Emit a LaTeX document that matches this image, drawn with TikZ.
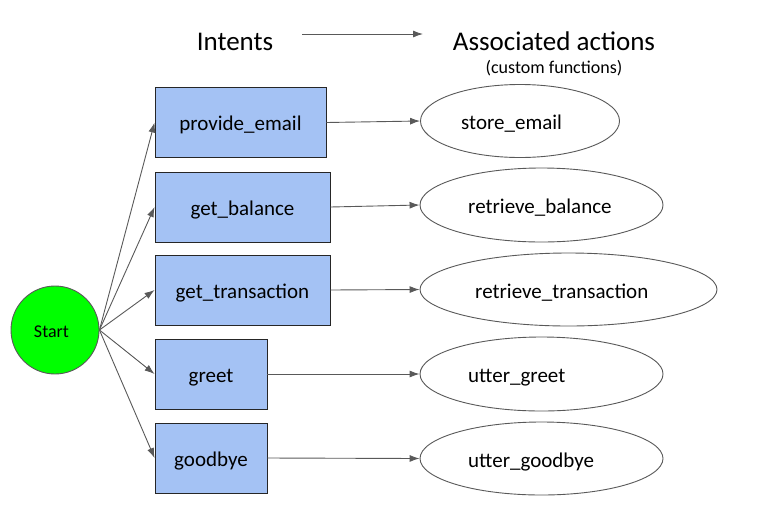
\documentclass[tikz,border=0pt]{standalone}
\usepackage{fontspec}
\setmainfont{Carlito}
\usetikzlibrary{arrows.meta,shapes.geometric}
\definecolor{boxblue}{HTML}{A4C2F4}
\definecolor{linegray}{HTML}{595959}
\definecolor{startgreen}{HTML}{00FF00}
\tikzset{
  intent/.style={draw=black!85, line width=0.9pt, fill=boxblue, minimum height=70pt, inner sep=0pt, text height=16pt, text depth=0pt, font=\fontsize{21}{24}\selectfont},
  action/.style={ellipse, draw=linegray, line width=0.9pt, fill=white, inner sep=0pt},
  acttext/.style={anchor=base west, inner sep=0pt, font=\fontsize{21}{24}\selectfont},
  conn/.style={draw=linegray, line width=0.9pt, -{Latex[length=10pt,width=7pt]}},
  heading/.style={anchor=base, inner sep=0pt, font=\fontsize{27}{30}\selectfont}
}
\begin{document}
\begin{tikzpicture}[x=1pt,y=-1pt]
\useasboundingbox (0,0) rectangle (773,528);
% headings
\node[heading] (hint) at (235,50) {Intents};
\node[heading] (hact) at (554,50) {Associated actions};
\node[anchor=base, inner sep=0pt, font=\fontsize{18}{20}\selectfont] (hcf) at (554,73) {(custom functions)};
\coordinate (ha1) at (302,34);
\coordinate (ha2) at (423,34);
\draw[conn] (ha1) -- (ha2);
% start
\node[circle, draw=linegray, line width=0.9pt, fill=startgreen, minimum size=88pt, inner sep=0pt, text height=14pt, text depth=0pt, font=\fontsize{18}{20}\selectfont] (start) at (55,330) {\hspace*{-7pt}Start};
% intents
\node[intent, minimum width=171pt] (pe) at (240.5,122.5) {provide\_email};
\node[intent, minimum width=175pt] (gb) at (242.5,207) {get\_balance};
\node[intent, minimum width=175pt] (gt) at (242.5,290) {get\_transaction};
\node[intent, minimum width=112pt] (gr) at (211,374) {greet};
\node[intent, minimum width=112pt] (gd) at (211,458) {goodbye};
% actions
\node[action, minimum width=199pt, minimum height=73pt] (e1) at (520,121) {};
\node[action, minimum width=243pt, minimum height=74pt] (e2) at (541.5,205) {};
\node[action, minimum width=297pt, minimum height=73pt] (e3) at (568.5,289.5) {};
\node[action, minimum width=243pt, minimum height=74pt] (e4) at (541.5,374) {};
\node[action, minimum width=243pt, minimum height=73pt] (e5) at (541.5,458.5) {};
\node[acttext] (t1) at (461,129.5) {store\_email};
\node[acttext] (t2) at (468,213.5) {retrieve\_balance};
\node[acttext] (t3) at (475,298) {retrieve\_transaction};
\node[acttext] (t4) at (468,382.5) {utter\_greet};
\node[acttext] (t5) at (468,467) {utter\_goodbye};
% connectors
\foreach \n in {pe,gb,gt,gr,gd} {
  \draw[conn] (start.east) -- (\n.west);
}
\draw[conn] (pe.east) -- (e1.west);
\draw[conn] (gb.east) -- (e2.west);
\draw[conn] (gt.east) -- (e3.west);
\draw[conn] (gr.east) -- (e4.west);
\draw[conn] (gd.east) -- (e5.west);
\end{tikzpicture}
\end{document}
